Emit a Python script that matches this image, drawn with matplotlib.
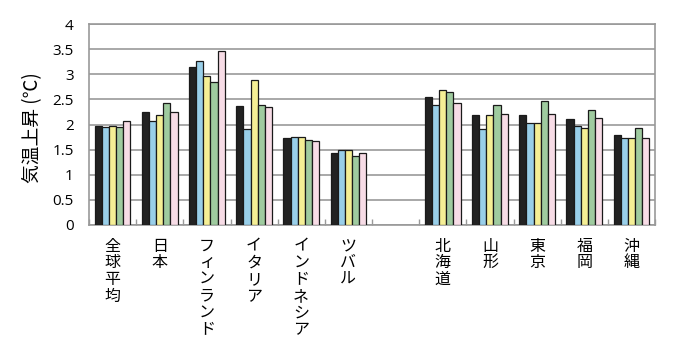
import matplotlib
matplotlib.use("Agg")
import matplotlib.pyplot as plt
import numpy as np

plt.rcParams['font.family'] = ['Noto Sans CJK JP', 'DejaVu Sans']

categories = ["全球平均", "日本", "フィンランド", "イタリア", "インドネシア", "ツバル", "",
              "北海道", "山形", "東京", "福岡", "沖縄"]
s1 = [1.98, 2.25, 3.15, 2.37, 1.74, 1.44, np.nan, 2.54, 2.19, 2.19, 2.10, 1.79]
s2 = [1.95, 2.06, 3.26, 1.92, 1.76, 1.49, np.nan, 2.39, 1.91, 2.03, 1.97, 1.73]
s3 = [1.97, 2.18, 2.96, 2.88, 1.76, 1.49, np.nan, 2.69, 2.18, 2.03, 1.94, 1.73]
s4 = [1.95, 2.43, 2.84, 2.39, 1.70, 1.38, np.nan, 2.64, 2.39, 2.46, 2.28, 1.94]
s5 = [2.07, 2.25, 3.47, 2.34, 1.67, 1.43, np.nan, 2.42, 2.21, 2.21, 2.12, 1.73]
series = [s1, s2, s3, s4, s5]
colors = ["#222222", "#99cfe9", "#f5ef95", "#9fcb9f", "#f7dce6"]
yticks = [0, 0.5, 1, 1.5, 2, 2.5, 3, 3.5, 4]
ylabel = "気温上昇 (℃)"

fig = plt.figure(figsize=(6.8, 3.5), dpi=100)
ax = fig.add_axes([89/680, 1-225/350, (655-89)/680, (225-24)/350])

n = len(categories)
x = np.arange(n)
w = 0.151
for i, (vals, c) in enumerate(zip(series, colors)):
    ax.bar(x + (i - 2) * w, vals, width=w, color=c, edgecolor="#1a1a1a", linewidth=0.9, zorder=3)

ax.set_xlim(-0.5, n - 0.5)
ax.set_ylim(0, 4)
ax.set_yticks(yticks)
ax.set_yticklabels([f"{v:g}" for v in yticks], fontsize=11, family=['Open Sans', 'DejaVu Sans'])
ax.yaxis.grid(True, color="#999999", linewidth=1.2, zorder=0)
ax.tick_params(axis='y', length=0, pad=11)

ax.set_xticks(x)
ax.set_xticklabels(["\n".join(c) for c in categories], fontsize=11.5, linespacing=0.98, va='top')
ax.tick_params(axis='x', length=0, pad=9)
ax.set_xticks(np.arange(n + 1) - 0.5, minor=True)
ax.tick_params(axis='x', which='minor', direction='in', length=4, color="#999999", width=1)

for s in ax.spines.values():
    s.set_color("#999999")
    s.set_linewidth(1.2)

fig.text(33/680, 1-128/350, ylabel, rotation=90, ha='center', va='center', fontsize=13.5)

fig.savefig("out.png", dpi=100)
